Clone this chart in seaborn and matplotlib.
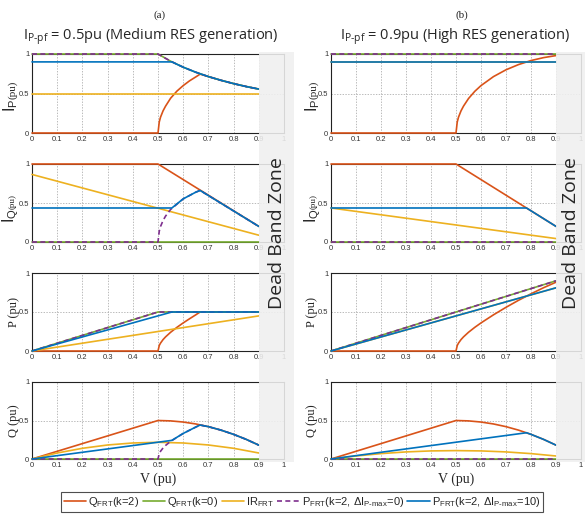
import matplotlib
matplotlib.use("Agg")
import matplotlib.pyplot as plt
from matplotlib.lines import Line2D
from matplotlib.patches import Rectangle
from matplotlib.ticker import FuncFormatter
import pandas as pd
import seaborn as sns

sns.set_style("white")
plt.rcParams["font.family"] = ["Liberation Sans", "DejaVu Sans"]
plt.rcParams["mathtext.fontset"] = "custom"
plt.rcParams["mathtext.rm"] = "Liberation Sans"
plt.rcParams["mathtext.it"] = "Liberation Sans:italic"
plt.rcParams["mathtext.bf"] = "Liberation Sans:bold"

# ---------------------------------------------------------------------------
# Curves per panel: key -> (V values, quantity values)
#   q2  : Q_FRT (k=2)          q0 : Q_FRT (k=0)        ir : IR_FRT
#   p0  : P_FRT (k=2, dI=0)    p10: P_FRT (k=2, dI=10)
# ---------------------------------------------------------------------------

# (a) I_P-pf = 0.5 pu
a_ip = {
    "q2": ([0, 0.5, 0.505, 0.51, 0.52, 0.53, 0.55, 0.575, 0.6, 0.625, 0.65, 0.667, 0.7, 0.75, 0.8, 0.85, 0.9],
           [0, 0, 0.14, 0.20, 0.28, 0.34, 0.44, 0.53, 0.60, 0.66, 0.71, 0.745, 0.714, 0.667, 0.625, 0.588, 0.556]),
    "q0": ([0, 0.5, 0.55, 0.6, 0.65, 0.7, 0.75, 0.8, 0.85, 0.9],
           [1, 1, 0.909, 0.833, 0.769, 0.714, 0.667, 0.625, 0.588, 0.556]),
    "ir": ([0, 0.9], [0.5, 0.5]),
    "p0": ([0, 0.5, 0.55, 0.6, 0.65, 0.7, 0.75, 0.8, 0.85, 0.9],
           [1, 1, 0.909, 0.833, 0.769, 0.714, 0.667, 0.625, 0.588, 0.556]),
    "p10": ([0, 0.555, 0.6, 0.65, 0.7, 0.75, 0.8, 0.85, 0.9],
            [0.9, 0.9, 0.833, 0.769, 0.714, 0.667, 0.625, 0.588, 0.556]),
}
a_iq = {
    "q2": ([0, 0.5, 0.9], [1, 1, 0.2]),
    "q0": ([0, 0.9], [0, 0]),
    "ir": ([0, 0.9], [0.866, 0.087]),
    "p0": ([0, 0.5, 0.505, 0.51, 0.52, 0.53, 0.55, 0.6, 0.65, 0.667, 0.9],
           [0, 0, 0.14, 0.198, 0.275, 0.332, 0.417, 0.553, 0.639, 0.661, 0.2]),
    "p10": ([0, 0.555, 0.6, 0.65, 0.667, 0.9], [0.436, 0.436, 0.553, 0.639, 0.661, 0.2]),
}
a_p = {
    "q2": ([0, 0.5, 0.505, 0.51, 0.52, 0.53, 0.55, 0.575, 0.6, 0.625, 0.65, 0.667, 0.9],
           [0, 0, 0.071, 0.101, 0.146, 0.181, 0.24, 0.303, 0.36, 0.413, 0.464, 0.5, 0.5]),
    "q0": ([0, 0.5, 0.9], [0, 0.5, 0.5]),
    "ir": ([0, 0.9], [0, 0.45]),
    "p0": ([0, 0.5, 0.9], [0, 0.5, 0.5]),
    "p10": ([0, 0.555, 0.9], [0, 0.5, 0.5]),
}
a_q = {
    "q2": ([0, 0.5, 0.55, 0.6, 0.65, 0.7, 0.75, 0.8, 0.85, 0.9],
           [0, 0.5, 0.495, 0.48, 0.455, 0.42, 0.375, 0.32, 0.255, 0.18]),
    "q0": ([0, 0.9], [0, 0]),
    "ir": ([0, 0.1, 0.2, 0.3, 0.4, 0.5, 0.6, 0.7, 0.8, 0.9],
           [0, 0.078, 0.139, 0.182, 0.208, 0.217, 0.208, 0.182, 0.139, 0.078]),
    "p0": ([0, 0.5, 0.505, 0.51, 0.52, 0.53, 0.55, 0.6, 0.65, 0.667, 0.7, 0.75, 0.8, 0.85, 0.9],
           [0, 0, 0.071, 0.1, 0.143, 0.176, 0.229, 0.332, 0.415, 0.441, 0.42, 0.375, 0.32, 0.255, 0.18]),
    "p10": ([0, 0.555, 0.6, 0.65, 0.667, 0.7, 0.75, 0.8, 0.85, 0.9],
            [0, 0.242, 0.332, 0.415, 0.441, 0.42, 0.375, 0.32, 0.255, 0.18]),
}

# (b) I_P-pf = 0.9 pu
b_ip = {
    "q2": ([0, 0.5, 0.505, 0.51, 0.52, 0.53, 0.55, 0.575, 0.6, 0.65, 0.7, 0.75, 0.8, 0.85, 0.9],
           [0, 0, 0.14, 0.20, 0.28, 0.34, 0.436, 0.527, 0.6, 0.714, 0.8, 0.866, 0.917, 0.954, 0.98]),
    "q0": ([0, 0.9], [1, 1]),
    "ir": ([0, 0.9], [0.9, 0.9]),
    "p0": ([0, 0.9], [1, 1]),
    "p10": ([0, 0.9], [0.9, 0.9]),
}
b_iq = {
    "q2": ([0, 0.5, 0.9], [1, 1, 0.2]),
    "q0": ([0, 0.9], [0, 0]),
    "ir": ([0, 0.9], [0.436, 0.044]),
    "p0": ([0, 0.9], [0, 0]),
    "p10": ([0, 0.782, 0.9], [0.436, 0.436, 0.2]),
}
b_p = {
    "q2": ([0, 0.5, 0.505, 0.51, 0.52, 0.53, 0.55, 0.575, 0.6, 0.65, 0.7, 0.75, 0.8, 0.85, 0.9],
           [0, 0, 0.071, 0.101, 0.146, 0.181, 0.24, 0.303, 0.36, 0.464, 0.56, 0.65, 0.733, 0.811, 0.882]),
    "q0": ([0, 0.9], [0, 0.9]),
    "ir": ([0, 0.9], [0, 0.81]),
    "p0": ([0, 0.9], [0, 0.9]),
    "p10": ([0, 0.9], [0, 0.81]),
}
b_q = {
    "q2": ([0, 0.5, 0.55, 0.6, 0.65, 0.7, 0.75, 0.8, 0.85, 0.9],
           [0, 0.5, 0.495, 0.48, 0.455, 0.42, 0.375, 0.32, 0.255, 0.18]),
    "q0": ([0, 0.9], [0, 0]),
    "ir": ([0, 0.1, 0.2, 0.3, 0.4, 0.5, 0.6, 0.7, 0.8, 0.9],
           [0, 0.039, 0.070, 0.092, 0.105, 0.109, 0.105, 0.092, 0.070, 0.039]),
    "p0": ([0, 0.9], [0, 0]),
    "p10": ([0, 0.782, 0.8, 0.85, 0.9], [0, 0.341, 0.32, 0.255, 0.18]),
}

series_keys = ["q2", "q0", "ir", "p0", "p10"]
series_labels = [
    r"Q$_\mathregular{FRT}$(k=2)",
    r"Q$_\mathregular{FRT}$(k=0)",
    r"IR$_\mathregular{FRT}$",
    r"P$_\mathregular{FRT}$(k=2, $\Delta$I$_{\mathregular{P}\text{-}\mathregular{max}}$=0)",
    r"P$_\mathregular{FRT}$(k=2, $\Delta$I$_{\mathregular{P}\text{-}\mathregular{max}}$=10)",
]
series_colors = ["#D95319", "#77AC30", "#EDB120", "#7E2F8E", "#0072BD"]
series_dashes = [None, None, None, (3.0, 2.0), None]

x_ticks = [0, 0.1, 0.2, 0.3, 0.4, 0.5, 0.6, 0.7, 0.8, 0.9, 1.0]
y_ticks = [0, 0.5, 1.0]

W, H = 585, 514
fig = plt.figure(figsize=(W / 100, H / 100), dpi=100)

col_left = [(32, 252), (331, 250)]          # left px, width px
row_top = [(54, 79), (164, 78), (273, 78), (382, 77)]  # top px, height px

panels = [[a_ip, a_iq, a_p, a_q], [b_ip, b_iq, b_p, b_q]]

fmt = FuncFormatter(lambda v, _: f"{v:g}")


def add_axes(cx, cy):
    l, w = col_left[cx]
    t, h = row_top[cy]
    return fig.add_axes([l / W, 1 - (t + h) / H, w / W, h / H])


def style_axes(ax):
    ax.set_xlim(0, 1)
    ax.set_ylim(0, 1)
    ax.set_xticks(x_ticks)
    ax.set_yticks(y_ticks)
    ax.xaxis.set_major_formatter(fmt)
    ax.yaxis.set_major_formatter(fmt)
    ax.tick_params(labelsize=5.5, colors="#333333", direction="in", length=2,
                   width=0.5, pad=2)
    ax.grid(True, color="#a0a0a0", linestyle=(0, (2, 2)), linewidth=0.5)
    for s in ax.spines.values():
        s.set_color("#222222")
        s.set_linewidth(0.8)
    ax.set_xlabel("")
    ax.set_ylabel("")


axes = [[None] * 4 for _ in range(2)]
for cx in range(2):
    for cy in range(4):
        ax = add_axes(cx, cy)
        axes[cx][cy] = ax
        data = panels[cx][cy]
        for key, col, dsh in zip(series_keys, series_colors, series_dashes):
            xs, ys = data[key]
            df = pd.DataFrame({"V": xs, "Y": ys})
            sns.lineplot(data=df, x="V", y="Y", ax=ax, color=col, lw=1.2,
                         estimator=None, sort=False, legend=False, zorder=3)
            ln = ax.lines[-1]
            ln.set_clip_on(False)
            if dsh is not None:
                ln.set_dashes(dsh)
        style_axes(ax)

# y-axis labels
serif = ["Liberation Serif", "DejaVu Serif"]
for cx, (dx_i, dx_pu, dx_s) in enumerate([(21, 19, 18), (18, 17.5, 19)]):
    for cy, (sub, pu_size) in enumerate([("P", 8), ("Q", 6.5)]):
        ax = axes[cx][cy]
        ax.annotate(r"I$_\mathregular{%s}$" % sub, xy=(0, 0.5), xycoords="axes fraction",
                    xytext=(-dx_i * 0.72, -4), textcoords="offset points", rotation=90,
                    ha="center", va="top", fontsize=11.5)
        ax.annotate("(pu)", xy=(0, 0.5), xycoords="axes fraction",
                    xytext=(-dx_pu * 0.72, -4), textcoords="offset points", rotation=90,
                    ha="center", va="bottom", fontsize=pu_size, family=serif)
    for cy, name in [(2, "P (pu)"), (3, "Q (pu)")]:
        ax = axes[cx][cy]
        ax.annotate(name, xy=(0, 0.5), xycoords="axes fraction",
                    xytext=(-dx_s * 0.72, 0), textcoords="offset points", rotation=90,
                    ha="center", va="center", fontsize=9, family=serif)
    axes[cx][3].set_xlabel("V (pu)", fontsize=10, family=serif, labelpad=3)

# dead band overlay over V in [0.9, 1]
inv = fig.transFigure.inverted()
for cx, right_px in enumerate([294, 585]):
    ax = axes[cx][0]
    x0 = inv.transform(ax.transData.transform((0.9, 0)))[0]
    x1 = right_px / W
    y0, y1 = 1 - 462 / H, 1 - 52 / H
    fig.patches.append(Rectangle((x0, y0), x1 - x0, y1 - y0, transform=fig.transFigure,
                                 facecolor="#f0f0f0", edgecolor="none", alpha=0.88, zorder=10))
    fig.text((x0 + x1) / 2 + 1 / W, 1 - 233 / H, "Dead Band Zone", rotation=90,
             ha="center", va="center", fontsize=14, family=["Open Sans", "DejaVu Sans"],
             zorder=11)

# headings
fig.text(160 / W, 1 - 15 / H, "(a)", ha="center", va="center", fontsize=8, family=serif)
fig.text(462 / W, 1 - 15 / H, "(b)", ha="center", va="center", fontsize=8, family=serif)
sub_title = r"I$_{\mathregular{P}\text{-}\mathregular{pf}}$"
fig.text(151 / W, 1 - 37 / H, sub_title + " = 0.5pu (Medium RES generation)",
         ha="center", va="center", fontsize=10.5, family=["Open Sans", "DejaVu Sans"])
fig.text(455 / W, 1 - 37 / H, sub_title + " = 0.9pu (High RES generation)",
         ha="center", va="center", fontsize=10.5, family=["Open Sans", "DejaVu Sans"])

handles = []
for col, dsh in zip(series_colors, series_dashes):
    h = Line2D([], [], color=col, lw=1.2)
    if dsh is not None:
        h.set_dashes(dsh)
    handles.append(h)
leg = fig.legend(handles, series_labels, loc="center", bbox_to_anchor=(302 / W, 1 - 502 / H),
                 ncol=5, fontsize=8, frameon=True, fancybox=False, handlelength=2.0,
                 handletextpad=0.2, columnspacing=0.3, borderpad=0.25, borderaxespad=0)
leg.get_frame().set_edgecolor("#222222")
leg.get_frame().set_linewidth(0.8)

fig.savefig("out.png", dpi=100)
